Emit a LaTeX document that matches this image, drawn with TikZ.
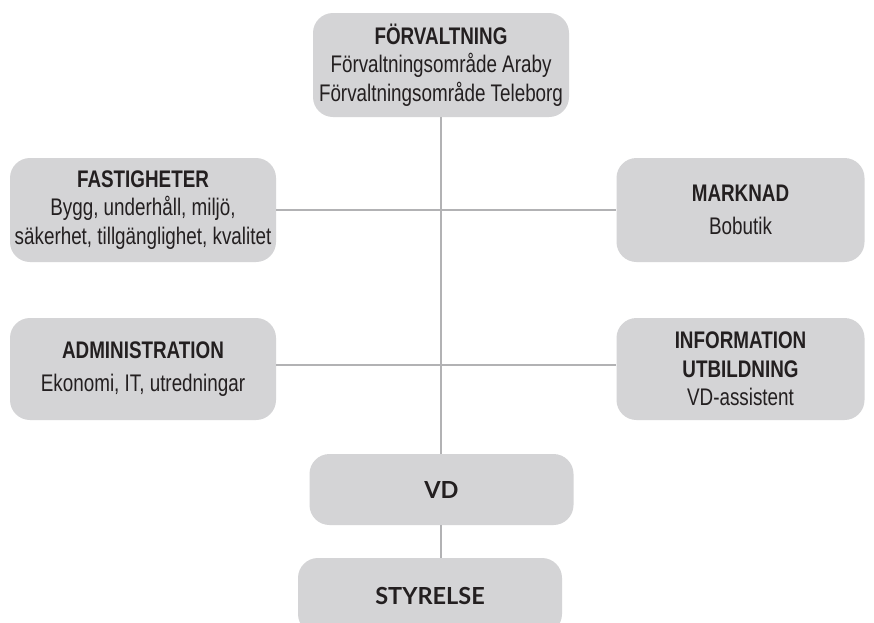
\documentclass[tikz,border=0pt]{standalone}
\usepackage{fontspec}
\setmainfont[FakeStretch=0.785]{Liberation Sans}
\newfontfamily\vdfont{Lato}
\definecolor{boxfill}{HTML}{D4D4D6}
\definecolor{linegray}{HTML}{B2B2B4}
\definecolor{txt}{HTML}{231F20}
\begin{document}
\begin{tikzpicture}[x=1pt,y=-1pt,
  box/.style={fill=boxfill, draw=none, rounded corners=20pt, align=center,
    text=txt, font=\fontsize{24}{28.5}\selectfont, inner sep=0pt},
  conn/.style={draw=linegray, line width=2pt}]
\useasboundingbox (0,0) rectangle (874,622);
\fill[white] (0,0) rectangle (874,622);
\node[box, minimum width=256pt, minimum height=104pt] (forv) at (441,65)
  {\textbf{FÖRVALTNING}\\Förvaltningsområde Araby\\Förvaltningsområde Teleborg};
\node[box, minimum width=266pt, minimum height=104pt] (fast) at (143,210)
  {\textbf{FASTIGHETER}\\Bygg, underhåll, miljö,\\säkerhet, tillgänglighet, kvalitet};
\node[box, minimum width=248pt, minimum height=104pt] (mark) at (740.5,210)
  {\textbf{MARKNAD}\\[5pt]Bobutik};
\node[box, minimum width=266pt, minimum height=102pt] (admin) at (143,369)
  {\textbf{ADMINISTRATION}\\[5pt]Ekonomi, IT, utredningar};
\node[box, minimum width=248pt, minimum height=102pt] (info) at (740.5,369)
  {\textbf{INFORMATION}\\\textbf{UTBILDNING}\\VD-assistent};
\node[box, minimum width=264pt, minimum height=71pt, font=\vdfont\bfseries\fontsize{23.5}{26}\selectfont] (vd) at (441.5,489.5) {VD};
\node[box, minimum width=264pt, minimum height=76pt, font=\vdfont\bfseries\fontsize{23.5}{26}\selectfont] (styr) at (430,596) {STYRELSE};
\draw[conn] (fast.east) -- (mark.west);
\draw[conn] ([yshift=4pt]admin.east) -- ([yshift=4pt]info.west);
\draw[conn] (forv.south) -- (forv.south |- vd.north);
\draw[conn] (vd.south -| forv.south) -- (forv.south |- styr.north);
\end{tikzpicture}
\end{document}
